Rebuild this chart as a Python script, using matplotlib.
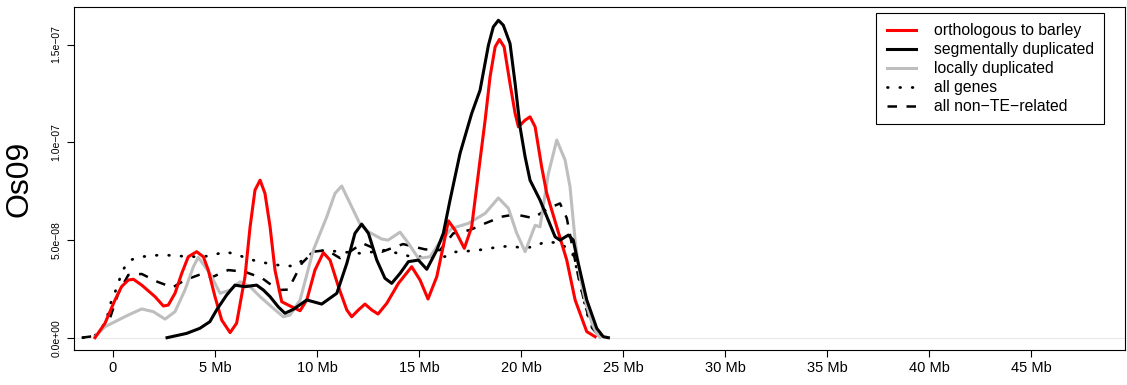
import numpy as np
import matplotlib
matplotlib.use("Agg")
import matplotlib.pyplot as plt

plt.rcParams['font.family'] = ['Liberation Sans', 'DejaVu Sans']

# posiciones en Mb, densidades en unidades de 1e-8
orto_x = [-0.88, -0.39, -0.15, 0.10, 0.42, 0.75, 1.00, 1.41, 2.06, 2.47, 2.71, 3.04, 3.37, 3.69, 4.10,
          4.43, 4.67, 5.00, 5.33, 5.74, 6.06, 6.47, 6.72, 6.96, 7.21, 7.45, 7.70, 7.94, 8.27, 8.76,
          9.17, 9.50, 9.90, 10.31, 10.64, 11.05, 11.46, 11.70, 12.03, 12.35, 12.68, 12.99, 13.42,
          13.99, 14.64, 15.05, 15.44, 15.87, 16.18, 16.44, 16.76, 17.22, 17.58, 17.99, 18.24, 18.48,
          18.73, 18.94, 19.17, 19.46, 19.71, 19.87, 20.20, 20.44, 20.69, 21.01, 21.26, 21.75, 22.24,
          22.65, 23.22, 23.63]
orto_y = [0.0, 0.74, 1.33, 1.93, 2.61, 2.95, 2.99, 2.69, 2.10, 1.62, 1.67, 2.27, 3.29, 4.14, 4.40,
          4.14, 3.46, 2.10, 0.90, 0.26, 0.74, 3.12, 5.67, 7.55, 8.06, 7.38, 5.67, 3.46, 1.84, 1.58,
          1.38, 1.93, 3.46, 4.35, 3.97, 2.61, 1.42, 1.07, 1.42, 1.72, 1.42, 1.21, 1.76,
          2.78, 3.63, 2.95, 1.98, 3.12, 4.65, 5.98, 5.51, 4.57, 5.67, 9.08, 11.13, 13.34,
          14.88, 15.26, 14.88, 13.00, 11.47, 10.79, 11.13, 11.30, 10.79, 8.74, 7.38, 5.67, 3.97,
          1.93, 0.31, 0.05]

seg_x = [2.65, 3.61, 4.26, 4.75, 5.08, 5.57, 5.98, 6.47, 7.04, 7.37, 7.70, 8.10, 8.43, 8.84, 9.50,
         10.23, 10.97, 11.46, 11.86, 12.19, 12.52, 12.93, 13.33, 13.66, 14.07, 14.48, 14.97, 15.38,
         15.87, 16.19, 16.52, 17.01, 17.58, 17.99, 18.40, 18.64, 18.89, 19.13, 19.46, 19.71, 19.95,
         20.20, 20.44, 20.93, 21.67, 21.91, 22.32, 22.56, 22.73, 23.22, 23.71, 24.03, 24.28]
seg_y = [0.0, 0.22, 0.48, 0.82, 1.42, 2.18, 2.69, 2.61, 2.69, 2.44, 2.10, 1.58, 1.25, 1.45, 1.93,
         1.72, 2.27, 3.80, 5.34, 5.81, 5.34, 3.97, 3.04, 2.78, 3.29, 3.89, 3.97, 3.50,
         4.48, 5.34, 7.04, 9.43, 11.47, 12.66, 14.96, 15.90, 16.24, 15.99, 15.05, 13.00, 10.79,
         9.25, 8.06, 7.04, 5.16, 4.99, 5.25, 4.99, 4.14, 1.93, 0.48, 0.05, 0.0]

loc_x = [-0.88, -0.39, 0.10, 0.75, 1.41, 1.98, 2.55, 3.04, 3.53, 3.94, 4.18, 4.75, 5.25, 5.74, 6.23,
         6.72, 7.21, 7.86, 8.35, 8.68, 9.17, 9.82, 10.48, 10.88, 11.21, 11.62, 12.11, 12.52, 13.17,
         13.48, 14.07, 14.48, 14.97, 15.54, 16.03, 16.60, 17.42, 18.24, 18.89, 19.38, 19.79, 20.20,
         20.69, 20.93, 21.34, 21.75, 22.16, 22.40, 22.65, 22.89, 23.14, 23.47, 23.71, 23.87]
loc_y = [0.05, 0.56, 0.82, 1.16, 1.47, 1.33, 0.95, 1.33, 2.44, 3.63, 4.11, 3.29, 2.27, 2.44, 2.86,
         2.61, 2.10, 1.50, 1.07, 1.16, 1.93, 4.48, 6.19, 7.38, 7.76, 6.87, 5.81, 5.42, 5.05,
         4.99, 5.40, 4.83, 4.06, 4.14, 4.91, 5.59, 5.85, 6.36, 7.15, 6.62, 5.34, 4.40,
         5.75, 5.67, 8.40, 10.11, 9.08, 7.72, 4.99, 3.12, 1.93, 0.74, 0.22, 0.02]

todos_x = [-1.47, -0.88, -0.34, -0.15, 0.10, 0.48, 0.83, 1.41, 1.98, 2.55, 3.19, 4.35, 4.92, 5.49,
           6.06, 6.57, 7.12, 7.78, 8.35, 8.92, 9.50, 9.90, 10.55, 11.13, 12.19, 13.33, 14.64, 15.54,
           16.27, 16.68, 17.79, 18.89, 19.46, 20.03, 20.60, 21.18, 21.91, 22.50, 22.75, 23.04, 23.28,
           23.58, 23.97]
todos_y = [0.0, 0.11, 0.80, 1.67, 2.32, 3.46, 3.97, 4.14, 4.21, 4.23, 4.18, 4.13, 4.23, 4.40,
           4.26, 4.06, 3.89, 3.77, 3.67, 3.67, 4.14, 4.43, 4.45, 4.40, 4.31, 4.48, 4.14, 4.14,
           4.15, 4.38, 4.46, 4.64, 4.69, 4.60, 4.64, 4.91, 4.84, 4.38, 3.46, 2.08, 1.06,
           0.34, 0.01]

nonte_x = [-1.53, -0.88, -0.23, 0.26, 0.75, 1.41, 2.18, 2.92, 3.53, 4.26, 4.84, 5.65, 6.47, 7.30,
           8.10, 8.59, 9.25, 9.82, 10.48, 11.13, 12.23, 13.19, 14.22, 15.29, 16.03, 16.68, 17.50,
           18.24, 19.05, 19.71, 20.60, 21.34, 21.91, 22.24, 22.50, 22.79, 23.14, 23.48, 23.87]
nonte_y = [0.0, 0.09, 0.74, 2.27, 3.21, 3.26, 2.86, 2.57, 2.95, 3.23, 3.09, 3.46, 3.37, 3.05,
           2.44, 2.46, 3.80, 4.40, 4.48, 4.07, 4.83, 4.40, 4.79, 4.52, 4.48, 5.34, 5.51,
           5.85, 6.19, 6.31, 6.12, 6.62, 6.87, 6.12, 4.73, 3.21, 1.67, 0.50, 0.04]

xticks = [0, 5, 10, 15, 20, 25, 30, 35, 40, 45]
xlabels = ['0'] + ['%d Mb' % t for t in xticks[1:]]
yticks = [0, 5e-8, 1e-7, 1.5e-7]
ylabels = ['0.0e+00', '5.0e\u221208', '1.0e\u221207', '1.5e\u221207']

e = 1e-8
fig = plt.figure(figsize=(11.27, 3.85), dpi=100)
ax = fig.add_axes([74/1127, 35/385, 1051/1127, 343/385])

ax.axhline(0, color='#e8e8e8', lw=0.8, zorder=0)
ax.plot(todos_x, np.array(todos_y)*e, color='black', lw=2.0, dashes=(0.25, 4.2),
        dash_capstyle='round', label='all genes')
ax.plot(nonte_x, np.array(nonte_y)*e, color='black', lw=1.8, dashes=(3.8, 3.8),
        label='all non\u2212TE\u2212related')
ax.plot(loc_x, np.array(loc_y)*e, color='#bebebe', lw=2.2, solid_joinstyle='round',
        label='locally duplicated')
ax.plot(orto_x, np.array(orto_y)*e, color='red', lw=2.2, solid_joinstyle='round',
        label='orthologous to barley')
ax.plot(seg_x, np.array(seg_y)*e, color='black', lw=2.2, solid_joinstyle='round',
        label='segmentally duplicated')

ax.set_xlim(-1.91, 49.6)
ax.set_ylim(-6.3e-9, 1.692e-7)
ax.set_xticks(xticks)
ax.set_xticklabels(xlabels, fontsize=10.5)
ax.set_yticks(yticks)
ax.set_yticklabels(ylabels, fontsize=7.5, rotation=90, va='center')
ax.tick_params(direction='out', length=5, width=0.8, pad=3)
ax.tick_params(axis='y', pad=4)
for s in ax.spines.values():
    s.set_linewidth(0.8)
ax.set_ylabel('Os09', fontsize=23)
ax.yaxis.set_label_coords(-0.038, 0.5)

h, l = ax.get_legend_handles_labels()
orden = [3, 4, 2, 0, 1]
leg = ax.legend([h[i] for i in orden], [l[i] for i in orden], loc='upper right',
                bbox_to_anchor=(0.980, 0.982), borderaxespad=0, fontsize=11.3, fancybox=False,
                edgecolor='black', framealpha=1, handlelength=1.9, handletextpad=1.1,
                borderpad=0.65, labelspacing=0.25)
leg.get_frame().set_linewidth(0.8)

plt.savefig('out.png', dpi=100)
